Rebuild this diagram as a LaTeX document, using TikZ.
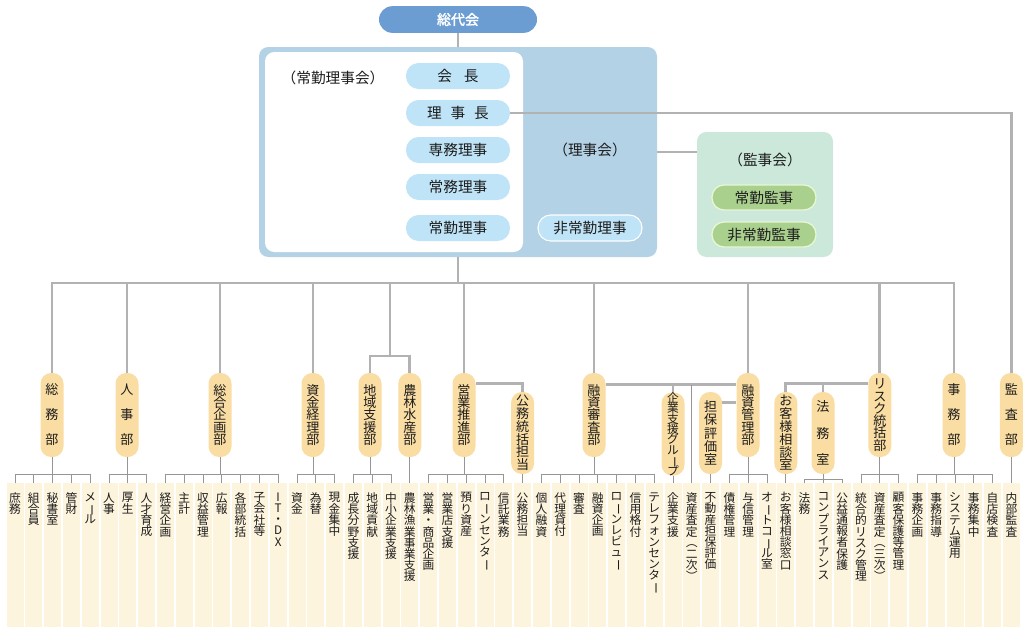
\documentclass[tikz,border=0pt]{standalone}
\usepackage{fontspec}
\setmainfont{Noto Sans CJK JP}[AutoFakeBold=2]
\usepackage{graphicx}
\usetikzlibrary{positioning,calc}

\definecolor{soudaiBlue}{RGB}{107,157,210}
\definecolor{boardBlue}{RGB}{180,210,229}
\definecolor{pillBlue}{RGB}{192,228,247}
\definecolor{auditGreen}{RGB}{204,232,218}
\definecolor{auditPill}{RGB}{170,208,142}
\definecolor{auditEdge}{RGB}{232,246,212}
\definecolor{deptOrange}{RGB}{250,221,163}
\definecolor{leafCream}{RGB}{253,244,222}
\definecolor{lineGray}{RGB}{178,178,178}
\definecolor{combGray}{RGB}{150,150,150}
\definecolor{inkGray}{RGB}{28,28,28}

% vertical (tategaki) text: one glyph per line
\makeatletter
\newcommand\tate[2][9.2pt]{\vbox{\baselineskip=#1\lineskiplimit=-20pt\lineskip=0pt%
  \@tfor\tate@c:=#2\do{\hbox to 1em{\hss\tate@c\hss}}}}
\makeatother
\newcommand\bou{\rotatebox[origin=c]{-90}{ー}}
\newcommand\kakL{\rotatebox[origin=c]{-90}{（}}
\newcommand\kakR{\rotatebox[origin=c]{-90}{）}}
\newcommand\leafcol[1]{\vbox to 108pt{\vskip 7pt\tate[8.4pt]{#1}\vfil}}
% comb from a department to its leaves
\newcommand\comb[4]{%
  \draw[combline] (leaf#2.north |- 0,#4) -- (leaf#3.north |- 0,#4);
  \draw[combline] (#1.south) -- (#1.south |- 0,#4);
  \foreach \j in {#2,...,#3} \draw[combline] (leaf\j.north) -- (leaf\j.north |- 0,#4);
}

\begin{document}
\begin{tikzpicture}
  [ x=0.75pt,y=-0.75pt,
    busline/.style={draw=lineGray,line width=2.2pt},
    combline/.style={draw=combGray,line width=0.7pt},
    bureau/.style={rectangle,rounded corners=8pt,fill=deptOrange,minimum width=17.25pt,minimum height=63pt,inner sep=0pt,text=inkGray,font=\fontsize{9.8}{10}\selectfont},
    subbureau/.style={bureau,minimum height=61.5pt},
    leaf/.style={rectangle,fill=leafCream,minimum width=12.75pt,inner sep=0pt,anchor=north,text=inkGray,font=\fontsize{8.8}{9}\selectfont},
    officer/.style={rectangle,rounded corners=9.5pt,fill=pillBlue,minimum width=78pt,minimum height=19.5pt,inner sep=0pt,text=inkGray,font=\fontsize{11}{12}\selectfont},
    auditor/.style={rectangle,rounded corners=9pt,fill=auditPill,draw=auditEdge,line width=1pt,minimum width=78pt,minimum height=18.75pt,inner sep=0pt,text=inkGray,font=\fontsize{11}{12}\selectfont},
    caption/.style={text=inkGray,font=\fontsize{11}{12}\selectfont}]

  \useasboundingbox (0,0) rectangle (1031,636);

  % top
  \node[rectangle,rounded corners=10pt,fill=soudaiBlue,minimum width=118.5pt,minimum height=20pt,text=white,font=\bfseries\fontsize{10.5}{11}\selectfont] (soudai) at (458,19.5) {総代会};

  \node[rectangle,rounded corners=7pt,fill=boardBlue,minimum width=298.5pt,minimum height=157.5pt] (board) at (458,152) {};
  \node[rectangle,rounded corners=7pt,fill=white,minimum width=193.5pt,minimum height=150pt] (jokin) at (394,152) {};
  \node[caption] (jokinlabel) at (333,78) {（常勤理事会）};
  \node[officer] (kaichou) at (458,76) {会\hspace{0.8em}長};
  \node[officer] (rijichou) at (458,113) {理\hspace{0.6em}事\hspace{0.6em}長};
  \node[officer] (senmu) at (458,150) {専務理事};
  \node[officer] (joumu) at (458,187) {常務理事};
  \node[officer] (joukin) at (458,228) {常勤理事};
  \node[caption] (rijikai) at (590,150) {（理事会）};
  \node[officer,draw=white,line width=0.8pt] (hijoukin) at (590,228) {非常勤理事};

  \node[rectangle,rounded corners=7pt,fill=auditGreen,minimum width=102pt,minimum height=93.75pt] (kanjikai) at (765,194.5) {};
  \node[caption] (kanjilabel) at (765,160) {（監事会）};
  \node[auditor] (joukinkanji) at (764,197.5) {常勤監事};
  \node[auditor] (hijoukinkanji) at (764,234.5) {非常勤監事};

  % leaves
  \foreach \lbl [count=\i from 0] in {庶務,組合員,秘書室,管財,メ\bou ル,人事,厚生,人才育成,
      経営企画,主計,収益管理,広報,各部統括,子会社等,IT・DX,資金,為替,現金集中,
      成長分野支援,地域貢献,中小企業支援,農林漁業事業支援,営業・商品企画,営業店支援,
      預り資産,ロ\bou ンセンタ\bou,信託業務,公務担当,個人融資,代理貸付,審査,融資企画,
      ロ\bou ンレビュ\bou,信用格付,テレフォンセンタ\bou,企業支援,資産査定\kakL 二次\kakR,
      不動産担保評価,債権管理,与信管理,オ\bou トコ\bou ル室,お客様相談窓口,法務,
      コンプライアンス,公益通報者保護,統合的リスク管理,資産査定\kakL 三次\kakR,顧客保護等管理,
      事務企画,事務指導,システム運用,事務集中,自店検査,内部監査}
    \node[leaf] (leaf\i) at ({15+18.8*\i},483) {\expandafter\leafcol\expandafter{\lbl}};

  % departments
  \node[bureau] (soumu) at (52,415) {\tate[18.75pt]{総務部}};
  \node[bureau] (jinji) at (127,415) {\tate[18.75pt]{人事部}};
  \node[bureau] (kikaku) at (220,415) {\tate{総合企画部}};
  \node[bureau] (shikin) at (313,415) {\tate{資金経理部}};
  \node[bureau] (chiiki) at (370,415) {\tate{地域支援部}};
  \node[bureau] (nourin) at (leaf21 |- 0,415) {\tate{農林水産部}};
  \node[bureau] (eigyou) at (464,415) {\tate{営業推進部}};
  \node[subbureau] (koumu) at (leaf27 |- 0,433) {\tate[9.6pt]{公務統括担当}};
  \node[bureau] (shinsa) at (594,415) {\tate{融資審査部}};
  \node[subbureau,font=\fontsize{8.8}{9}\selectfont] (kigyou) at (leaf35 |- 0,434) {\tate[7.8pt]{企業支援グル\bou プ}};
  \node[subbureau] (tanpo) at (leaf37 |- 0,433) {\tate[10pt]{担保評価室}};
  \node[bureau] (kanri) at (748,415) {\tate{融資管理部}};
  \node[subbureau] (okyaku) at (leaf41 |- 0,433) {\tate[9.6pt]{お客様相談室}};
  \node[subbureau] (houmu) at (823,433) {\tate[20pt]{法務室}};
  \node[bureau] (risk) at (leaf46 |- 0,415) {\tate[9.2pt]{リスク統括部}};
  \node[bureau] (jimu) at (954,415) {\tate[18.75pt]{事務部}};
  \node[bureau] (kansa) at (leaf53 |- 0,415) {\tate[18.75pt]{監査部}};

  % upper connectors
  \draw[busline] (soudai) -- (board);
  \draw[busline] (board.east) -- (board.east -| kanjikai.west);
  \draw[busline] (rijichou.east) -| (kansa.north);

  \coordinate (bus) at (458,283);
  \draw[busline] (board.south) -- (bus);
  \draw[busline] (soumu.north) |- (bus) -| (jimu.north);
  \foreach \d in {jinji,kikaku,shikin,eigyou,shinsa,kanri,risk}
    \draw[busline] (\d.north |- bus) -- (\d.north);
  \coordinate (chiikiJoin) at (390,356);
  \draw[busline] (chiikiJoin |- bus) -- (chiikiJoin);
  \draw[busline] (chiiki.north) |- (chiikiJoin) -| (nourin.north);

  \coordinate (koumuTap) at ([yshift=-8.25pt]eigyou.north east);
  \draw[busline] (koumuTap) -| (koumu.north);
  \coordinate (yuushiLink) at ([yshift=-9pt]shinsa.north east);
  \draw[busline] (yuushiLink) -- (yuushiLink -| kanri.west);
  \draw[busline] (kigyou.north) -- (kigyou.north |- yuushiLink);
  \draw[combline] (leaf36.north) -- (leaf36.north |- yuushiLink);
  \coordinate (tanpoTap) at ([yshift=-8.25pt]tanpo.north east);
  \draw[busline] (tanpoTap) -- (tanpoTap -| kanri.west);
  \coordinate (riskLink) at ([yshift=-8.25pt]risk.north west);
  \draw[busline] (riskLink) -| (okyaku.north);
  \draw[busline] (riskLink -| houmu.north) -- (houmu.north);

  % combs to leaves
  \comb{soumu}{0}{4}{474}
  \comb{jinji}{5}{7}{474}
  \comb{kikaku}{8}{14}{474}
  \comb{shikin}{15}{17}{474}
  \comb{chiiki}{18}{20}{474}
  \comb{eigyou}{22}{26}{474}
  \comb{shinsa}{28}{34}{474}
  \comb{kanri}{38}{40}{474}
  \comb{houmu}{42}{44}{479}
  \comb{risk}{45}{47}{474}
  \comb{jimu}{48}{52}{474}
  \foreach \d/\l in {nourin/21,koumu/27,kigyou/35,tanpo/37,okyaku/41,kansa/53}
    \draw[combline] (\d.south) -- (leaf\l.north);
\end{tikzpicture}
\end{document}
